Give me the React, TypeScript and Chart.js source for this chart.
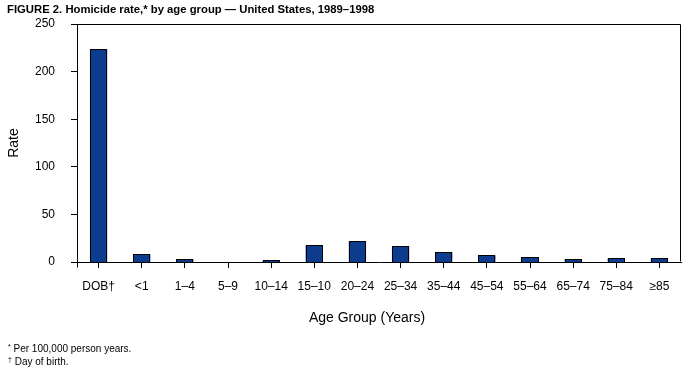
import React, { useEffect, useRef } from "react";
import { Chart, registerables } from "chart.js";

Chart.register(...registerables);

const categories = ["DOB†", "<1", "1–4", "5–9", "10–14", "15–10", "20–24", "25–34", "35–44", "45–54", "55–64", "65–74", "75–84", "≥85"];
const rates = [223.5, 8, 2.8, 0, 1.6, 17.5, 21.8, 16.5, 10.2, 7, 4.9, 2.8, 3.9, 3.9];
const yTickValues = [0, 50, 100, 150, 200, 250];
const chartTitle = "FIGURE 2. Homicide rate,* by age group — United States, 1989–1998";
const xTitle = "Age Group (Years)";
const yTitle = "Rate";

const FONT = "'Liberation Sans', Arial, Helvetica, sans-serif";
const BAR_FILL = "#0D3B8E";

const crispBars = {
  id: "crispBars",
  afterDatasetsDraw(chart: any) {
    const { ctx } = chart;
    const meta = chart.getDatasetMeta(0);
    ctx.save();
    meta.data.forEach((el: any) => {
      const { x, y, base, width } = el.getProps(["x", "y", "base", "width"], true);
      const left = Math.round(x - width / 2);
      const right = Math.round(x + width / 2);
      const top = Math.round(y);
      const bottom = Math.round(base);
      if (bottom - top < 1) return;
      ctx.fillStyle = BAR_FILL;
      ctx.fillRect(left, top, right - left, bottom - top);
      ctx.strokeStyle = "#000";
      ctx.lineWidth = 1;
      ctx.strokeRect(left + 0.5, top + 0.5, right - left - 1, bottom - top);
    });
    ctx.restore();
  },
};

const framePlugin = {
  id: "frame",
  afterDraw(chart: any) {
    const { ctx, chartArea } = chart;
    const l = Math.round(chartArea.left) + 0.5;
    const r = Math.round(chartArea.right) - 0.5;
    const t = Math.round(chartArea.top) + 0.5;
    const b = Math.round(chartArea.bottom) - 0.5;
    ctx.save();
    ctx.strokeStyle = "#000";
    ctx.lineWidth = 1;
    ctx.beginPath();
    ctx.moveTo(l, t);
    ctx.lineTo(r, t);
    ctx.lineTo(r, b);
    ctx.moveTo(l, b);
    ctx.lineTo(l, b + 6);
    ctx.stroke();
    ctx.fillStyle = "#000";
    ctx.font = `14px ${FONT}`;
    ctx.textAlign = "center";
    ctx.textBaseline = "middle";
    ctx.fillText(xTitle, 367, 318);
    ctx.restore();
  },
};

export default function App() {
  const ref = useRef<HTMLCanvasElement>(null);
  useEffect(() => {
    if (!ref.current) return;
    const chart = new Chart(ref.current, {
      type: "bar",
      data: {
        labels: categories,
        datasets: [
          {
            data: rates,
            backgroundColor: BAR_FILL,
            borderWidth: 0,
            barPercentage: 0.4,
            categoryPercentage: 1,
          },
        ],
      },
      options: {
        responsive: false,
        animation: false,
        layout: { padding: { left: 0, top: 24, right: 7, bottom: 0 } },
        plugins: { legend: { display: false }, tooltip: { enabled: false }, title: { display: false } },
        scales: {
          x: {
            afterFit: (s: any) => {
              s.height = 108;
            },
            grid: { offset: false, drawOnChartArea: false, drawTicks: true, tickLength: 6, color: "#000" },
            border: { display: true, color: "#000", width: 1, z: 1 },
            ticks: {
              autoSkip: false,
              maxRotation: 0,
              minRotation: 0,
              padding: 11,
              color: "#000",
              font: { family: FONT, size: 12 },
            },
          },
          y: {
            min: 0,
            max: 250,
            afterFit: (s: any) => {
              s.width = 77;
            },
            afterBuildTicks: (s: any) => {
              s.ticks = yTickValues.map((v) => ({ value: v }));
            },
            grid: { drawOnChartArea: false, drawTicks: true, tickLength: 6, color: "#000" },
            border: { display: true, color: "#000", width: 1 },
            ticks: {
              padding: 16,
              color: "#000",
              font: { family: FONT, size: 12 },
            },
            title: {
              display: true,
              text: yTitle,
              color: "#000",
              font: { family: FONT, size: 14 },
              padding: { top: 6, bottom: 0 },
            },
          },
        },
      },
      plugins: [crispBars, framePlugin],
    });
    return () => chart.destroy();
  }, []);

  return (
    <div style={{ position: "absolute", left: 0, top: 0, width: 688, height: 370, background: "#fff", fontFamily: FONT, color: "#000" }}>
      <canvas ref={ref} width={688} height={370} style={{ position: "absolute", left: 0, top: 0, width: 688, height: 370 }} />
      <div style={{ position: "absolute", left: 7, top: 2, fontSize: 11.3, fontWeight: "bold", whiteSpace: "nowrap", lineHeight: "14px" }}>
        {chartTitle}
      </div>
      <div style={{ position: "absolute", left: 8, top: 341, fontSize: 10, lineHeight: "11px", whiteSpace: "nowrap" }}>
        <div>
          <sup style={{ fontSize: 7, verticalAlign: "3px" }}>*</sup> Per 100,000 person years.
        </div>
        <div>
          <sup style={{ fontSize: 7, verticalAlign: "3px" }}>†</sup> Day of birth.
        </div>
      </div>
    </div>
  );
}
